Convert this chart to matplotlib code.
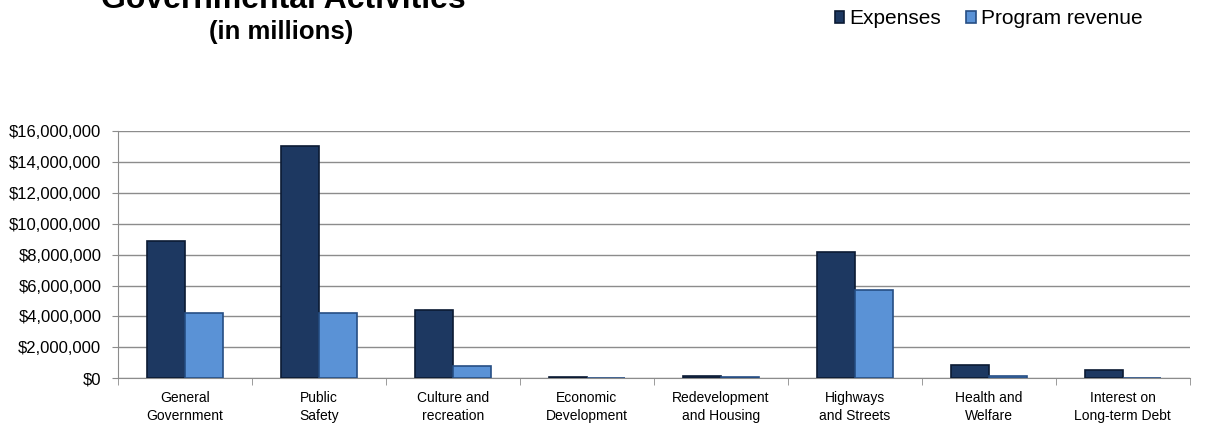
import numpy as np
import matplotlib.pyplot as plt
from matplotlib.ticker import FuncFormatter

plt.rcParams['font.family'] = ['Liberation Sans', 'DejaVu Sans']

categories = ["General\nGovernment", "Public\nSafety", "Culture and\nrecreation",
              "Economic\nDevelopment", "Redevelopment\nand Housing", "Highways\nand Streets",
              "Health and\nWelfare", "Interest on\nLong-term Debt"]
expenses = [8900000, 15050000, 4400000, 50000, 150000, 8200000, 820000, 500000]
program_revenue = [4200000, 4200000, 800000, 0, 80000, 5700000, 150000, 0]

fig = plt.figure(figsize=(12.07, 4.28), dpi=100)
ax = fig.add_axes([0.0978, 0.1168, 0.888, 0.576])

x = np.arange(len(categories))
w = 0.285
ax.bar(x - w / 2, expenses, w, color="#1D3861", edgecolor="#0B1A33", linewidth=1.2,
       label="Expenses", zorder=3)
ax.bar(x + w / 2, program_revenue, w, color="#5A92D6", edgecolor="#264E84", linewidth=1.2,
       label="Program revenue", zorder=3)

ax.set_xlim(-0.5, len(categories) - 0.5)
ax.set_ylim(0, 16000000)
ax.set_yticks(np.arange(0, 16000001, 2000000))
ax.yaxis.set_major_formatter(FuncFormatter(lambda v, p: "${:,.0f}".format(v)))
ax.yaxis.grid(True, color="#8C8C8C", linewidth=1, zorder=0)

ax.set_xticks(x)
ax.set_xticklabels(categories, fontsize=10, linespacing=1.45)
ax.set_xticks(np.arange(-0.5, len(categories)), minor=True)
ax.tick_params(axis="x", which="major", length=0, pad=9)
ax.tick_params(axis="x", which="minor", length=5, color="#8C8C8C", direction="out")
ax.tick_params(axis="y", length=4, color="#8C8C8C", labelsize=12, pad=8)

for side in ["top", "right"]:
    ax.spines[side].set_visible(False)
for side in ["left", "bottom"]:
    ax.spines[side].set_color("#8C8C8C")

fig.text(0.235, 1.0, "Governmental Activities", fontsize=23, fontweight="bold",
         ha="center", va="center")
fig.text(0.233, 0.925, "(in millions)", fontsize=18.5, fontweight="bold",
         ha="center", va="center")

fig.legend(loc="upper right", bbox_to_anchor=(0.962, 1.022), ncol=2, frameon=False,
           fontsize=15, handlelength=0.45, handleheight=0.45, handletextpad=0.25,
           columnspacing=1.2)

fig.savefig("out.png", dpi=100)
